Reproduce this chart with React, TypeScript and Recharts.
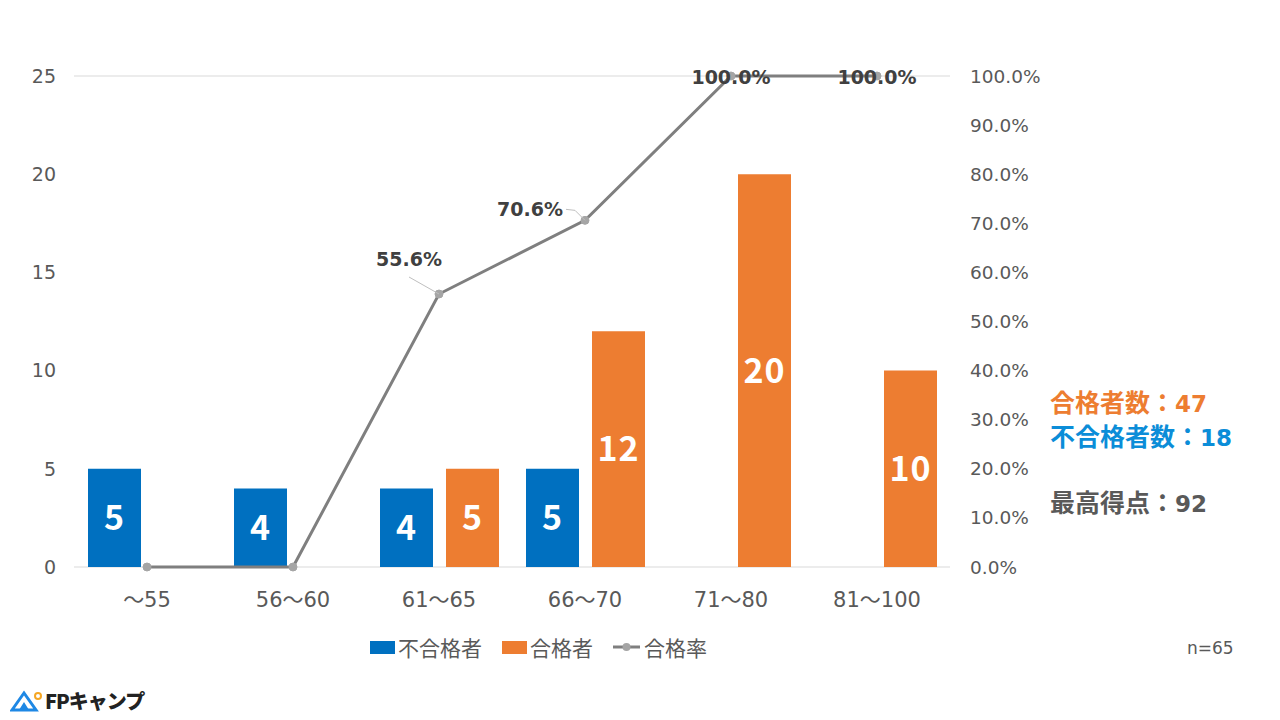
import React from "react";
import {
  Bar,
  CartesianGrid,
  ComposedChart,
  LabelList,
  Line,
  XAxis,
  YAxis,
} from "recharts";

const categories = ["～55", "56～60", "61～65", "66～70", "71～80", "81～100"];
const failed = [5, 4, 4, 5, null, null];
const passed = [null, null, 5, 12, 20, 10];
const passRate = [0, 0, 55.6, 70.6, 100, 100];
const countTicks = [0, 5, 10, 15, 20, 25];
const rateTicks = [0, 10, 20, 30, 40, 50, 60, 70, 80, 90, 100];

const data = categories.map((name, i) => ({
  name,
  failed: failed[i],
  passed: passed[i],
  rate: passRate[i],
}));

const FONT = '"DejaVu Sans", "Noto Sans CJK JP", sans-serif';
const CJK = '"Noto Sans CJK JP", "DejaVu Sans", sans-serif';
const BLUE = "#0070C0";
const ORANGE = "#ED7D31";
const GRAY_TEXT = "#595959";

function BarValue(props: any) {
  const { x, y, width, height, value } = props;
  if (value == null) return null;
  return (
    <text
      x={x + width / 2}
      y={y + height / 2}
      dy={12}
      textAnchor="middle"
      fill="#fff"
      fontSize={34}
      fontWeight="bold"
      fontFamily={CJK}
      letterSpacing={1}
    >
      {value}
    </text>
  );
}

function RateLabel(props: any) {
  const { x, y, value, index } = props;
  if (!value) return null;
  const text = `${value.toFixed(1)}%`;
  const common = {
    fill: "#404040",
    fontSize: 19,
    fontWeight: "bold" as const,
    fontFamily: FONT,
  };
  if (index === 2) {
    return (
      <g>
        <polyline
          points={`${x},${y} ${x - 30},${y - 17}`}
          fill="none"
          stroke="#BFBFBF"
          strokeWidth={1}
        />
        <text x={x - 30} y={y - 28} textAnchor="middle" {...common}>
          {text}
        </text>
      </g>
    );
  }
  if (index === 3) {
    return (
      <g>
        <polyline
          points={`${x},${y} ${x - 10},${y - 10} ${x - 19},${y - 11}`}
          fill="none"
          stroke="#BFBFBF"
          strokeWidth={1}
        />
        <text x={x - 22} y={y - 4} textAnchor="end" {...common}>
          {text}
        </text>
      </g>
    );
  }
  return (
    <text x={x} y={y + 8} textAnchor="middle" {...common}>
      {text}
    </text>
  );
}

function LegendBox({ color, label }: { color: string; label: string }) {
  return (
    <span style={{ display: "inline-flex", alignItems: "center", marginRight: 20 }}>
      <span style={{ width: 25, height: 13, background: color, marginRight: 3 }} />
      {label}
    </span>
  );
}

export default function App() {
  return (
    <div
      style={{
        position: "absolute",
        left: 0,
        top: 0,
        width: 1280,
        height: 720,
        background: "#fff",
        fontFamily: CJK,
        overflow: "hidden",
      }}
    >
      <ComposedChart
        width={1280}
        height={720}
        data={data}
        margin={{ top: 76, right: 230, bottom: 103, left: 0 }}
        barGap={13}
        barCategoryGap={14}
      >
        <CartesianGrid stroke="#D9D9D9" vertical={false} />
        <XAxis
          dataKey="name"
          axisLine={false}
          tickLine={false}
          tickSize={0}
          tickMargin={25}
          height={50}
          tick={{ fontSize: 21, fill: GRAY_TEXT, fontFamily: FONT }}
        />
        <YAxis
          yAxisId="count"
          domain={[0, 25]}
          ticks={countTicks}
          axisLine={false}
          tickLine={false}
          tickSize={0}
          tickMargin={18}
          width={74}
          tick={{ fontSize: 19, fill: GRAY_TEXT, fontFamily: FONT }}
        />
        <YAxis
          yAxisId="rate"
          orientation="right"
          domain={[0, 100]}
          ticks={rateTicks}
          axisLine={false}
          tickLine={false}
          tickSize={0}
          tickMargin={20}
          width={100}
          tickFormatter={(v: number) => `${v.toFixed(1)}%`}
          tick={{ fontSize: 18.5, fill: GRAY_TEXT, fontFamily: FONT }}
        />
        <Bar yAxisId="count" dataKey="failed" fill={BLUE} isAnimationActive={false}>
          <LabelList dataKey="failed" content={BarValue} />
        </Bar>
        <Bar yAxisId="count" dataKey="passed" fill={ORANGE} isAnimationActive={false}>
          <LabelList dataKey="passed" content={BarValue} />
        </Bar>
        <Line
          yAxisId="rate"
          dataKey="rate"
          stroke="#7F7F7F"
          strokeWidth={3}
          dot={{ r: 4, fill: "#A5A5A5", stroke: "#A5A5A5", strokeWidth: 1 }}
          isAnimationActive={false}
        >
          <LabelList dataKey="rate" content={RateLabel} />
        </Line>
      </ComposedChart>

      <div
        style={{
          position: "absolute",
          left: 370,
          top: 632,
          display: "flex",
          fontSize: 21,
          color: GRAY_TEXT,
        }}
      >
        <LegendBox color={BLUE} label="不合格者" />
        <LegendBox color={ORANGE} label="合格者" />
        <span style={{ display: "inline-flex", alignItems: "center" }}>
          <svg width={27} height={12} style={{ marginRight: 4 }}>
            <line x1={0} y1={6} x2={27} y2={6} stroke="#7F7F7F" strokeWidth={3} />
            <circle cx={13.5} cy={6} r={4} fill="#A5A5A5" />
          </svg>
          合格率
        </span>
      </div>

      <div
        style={{
          position: "absolute",
          left: 1050,
          top: 386,
          fontSize: 25,
          fontWeight: "bold",
          lineHeight: "31px",
        }}
      >
        <div style={{ color: ORANGE }}>
          合格者数：<span style={{ fontFamily: FONT, fontSize: 23 }}>47</span>
        </div>
        <div style={{ color: "#0B8DD8" }}>
          不合格者数：<span style={{ fontFamily: FONT, fontSize: 23 }}>18</span>
        </div>
        <div style={{ color: GRAY_TEXT, marginTop: 32 }}>
          最高得点：<span style={{ fontFamily: FONT, fontSize: 23 }}>92</span>
        </div>
      </div>

      <div
        style={{
          position: "absolute",
          left: 1187,
          top: 638,
          fontSize: 17,
          fontFamily: FONT,
          color: GRAY_TEXT,
        }}
      >
        n=65
      </div>

      <div
        style={{
          position: "absolute",
          left: 10,
          top: 686,
          display: "flex",
          alignItems: "center",
        }}
      >
        <svg width={32} height={22}>
          <polygon points="2,20 14,3 26,20" fill="none" stroke="#1E88E5" strokeWidth={3} />
          <polygon points="9,20 14,12 19,20" fill="#1E88E5" />
          <circle cx={28} cy={6} r={3} fill="none" stroke="#F5A623" strokeWidth={2} />
        </svg>
        <span
          style={{
            fontSize: 20,
            fontWeight: 900,
            color: "#222",
            marginLeft: 3,
            letterSpacing: -1,
          }}
        >
          FPキャンプ
        </span>
      </div>
    </div>
  );
}
